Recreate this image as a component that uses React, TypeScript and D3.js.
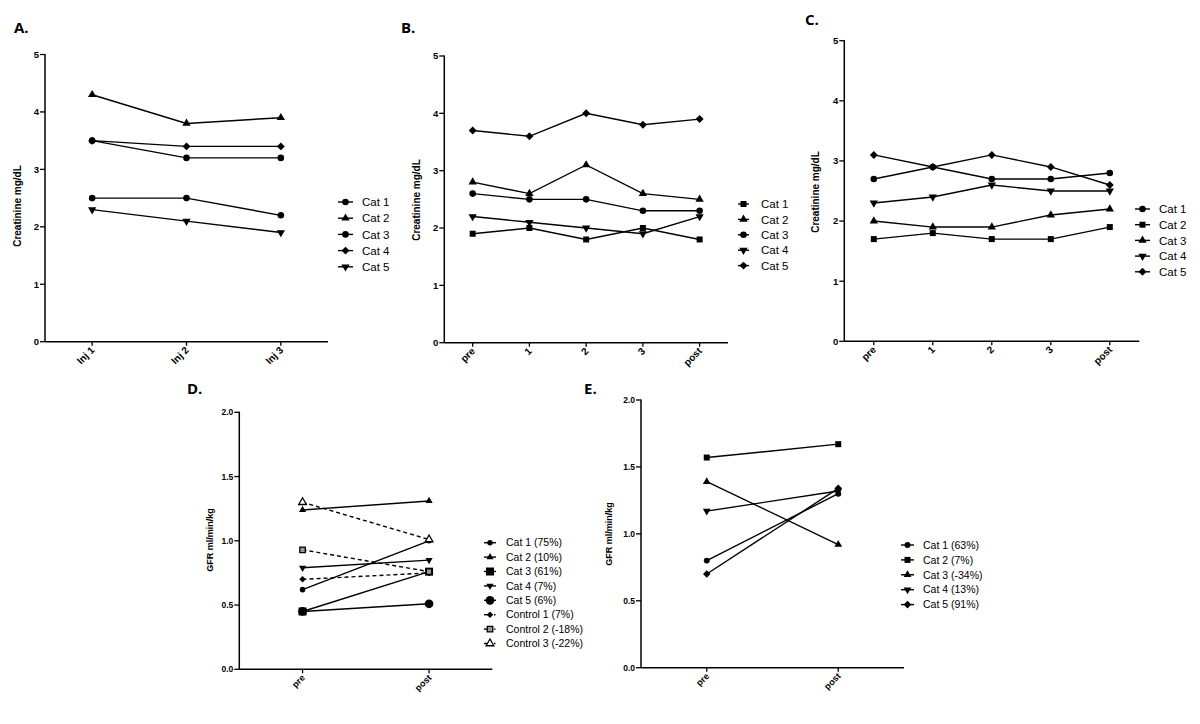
import React from 'react';
import * as d3 from 'd3';

// ---------- data ----------
const catsInj = ['Inj 1', 'Inj 2', 'Inj 3'];
const catsTime = ['pre', '1', '2', '3', 'post'];
const catsPrePost = ['pre', 'post'];

const creatTicks = [0, 1, 2, 3, 4, 5];
const gfrTicks = [0, 0.5, 1.0, 1.5, 2.0];

// Panel A
const aCat1 = [2.5, 2.5, 2.2];
const aCat2 = [4.3, 3.8, 3.9];
const aCat3 = [3.5, 3.2, 3.2];
const aCat4 = [3.5, 3.4, 3.4];
const aCat5 = [2.3, 2.1, 1.9];

// Panel B
const bCat1 = [1.9, 2.0, 1.8, 2.0, 1.8];
const bCat2 = [2.8, 2.6, 3.1, 2.6, 2.5];
const bCat3 = [2.6, 2.5, 2.5, 2.3, 2.3];
const bCat4 = [2.2, 2.1, 2.0, 1.9, 2.2];
const bCat5 = [3.7, 3.6, 4.0, 3.8, 3.9];

// Panel C
const cCat1 = [2.7, 2.9, 2.7, 2.7, 2.8];
const cCat2 = [1.7, 1.8, 1.7, 1.7, 1.9];
const cCat3 = [2.0, 1.9, 1.9, 2.1, 2.2];
const cCat4 = [2.3, 2.4, 2.6, 2.5, 2.5];
const cCat5 = [3.1, 2.9, 3.1, 2.9, 2.6];

// Panel D
const dNames = ['Cat 1 (75%)', 'Cat 2 (10%)', 'Cat 3 (61%)', 'Cat 4 (7%)', 'Cat 5 (6%)', 'Control 1 (7%)', 'Control 2 (-18%)', 'Control 3 (-22%)'];
const dCat1 = [0.62, 1.0];
const dCat2 = [1.24, 1.31];
const dCat3 = [0.45, 0.76];
const dCat4 = [0.79, 0.85];
const dCat5 = [0.45, 0.51];
const dCtl1 = [0.70, 0.75];
const dCtl2 = [0.93, 0.76];
const dCtl3 = [1.30, 1.01];

// Panel E
const eNames = ['Cat 1 (63%)', 'Cat 2 (7%)', 'Cat 3 (-34%)', 'Cat 4 (13%)', 'Cat 5 (91%)'];
const eCat1 = [0.80, 1.30];
const eCat2 = [1.57, 1.67];
const eCat3 = [1.39, 0.92];
const eCat4 = [1.17, 1.32];
const eCat5 = [0.70, 1.34];

// ---------- types ----------
type Shape = 'circle' | 'square' | 'tri' | 'itri' | 'diamond';
interface Series { name: string; values: number[]; shape: Shape; size?: number; dashed?: boolean; open?: boolean; }
interface PanelCfg {
  label: string; labelX: number; labelY: number;
  left: number; right: number; top: number; bottom: number;
  yMax: number; ticks: number[]; fmt: (v: number) => string;
  cats: string[]; series: Series[];
  yTitle: string; yTitleX: number; yTitleY: number; yTitleSize: number;
  legLine: [number, number]; legText: number; legY: number; legStep: number; legSize: number;
  tickSize: number; xTickSize: number;
}

const FONT = 'Liberation Sans, Arial, Helvetica, sans-serif';

function symbolPath(shape: Shape, size: number): string {
  const s = size;
  switch (shape) {
    case 'circle': return d3.symbol().type(d3.symbolCircle).size(s)()!;
    case 'square': return d3.symbol().type(d3.symbolSquare).size(s)()!;
    case 'tri': return d3.symbol().type(d3.symbolTriangle).size(s)()!;
    case 'itri': return d3.symbol().type(d3.symbolTriangle).size(s)()!;
    case 'diamond': return d3.symbol().type(d3.symbolSquare).size(s * 0.75)()!;
  }
}
function symbolRot(shape: Shape): number {
  if (shape === 'itri') return 180;
  if (shape === 'diamond') return 45;
  return 0;
}

function Marker({ x, y, s }: { x: number; y: number; s: Series }) {
  const size = s.size ?? 30;
  return (
    <path
      d={symbolPath(s.shape, size)}
      transform={`translate(${x},${y}) rotate(${symbolRot(s.shape)})`}
      fill={s.open ? (s.shape === 'square' ? '#999' : '#fff') : '#000'}
      stroke="#000"
      strokeWidth={s.open ? 1.3 : 0}
    />
  );
}

function Panel({ c }: { c: PanelCfg }) {
  const x = d3.scalePoint<string>().domain(c.cats).range([c.left, c.right]).padding(0.5);
  const y = d3.scaleLinear().domain([0, c.yMax]).range([c.bottom, c.top]);
  const line = d3.line<number>().x((_, i) => x(c.cats[i])!).y((v) => y(v));
  return (
    <g>
      <text x={c.labelX} y={c.labelY} fontFamily="Open Sans, sans-serif" fontWeight={700} fontSize={15}>{c.label}</text>
      {/* axes */}
      <line x1={c.left} x2={c.left} y1={c.top - 0.5} y2={c.bottom} stroke="#000" strokeWidth={1.5} />
      <line x1={c.left} x2={c.right} y1={c.bottom} y2={c.bottom} stroke="#000" strokeWidth={1.5} />
      {c.ticks.map((t) => (
        <g key={t}>
          <line x1={c.left - 5} x2={c.left} y1={y(t)} y2={y(t)} stroke="#000" strokeWidth={1.3} />
          <text x={c.left - 6} y={y(t) + c.tickSize * 0.36} textAnchor="end" fontFamily={FONT} fontWeight={700} fontSize={c.tickSize}>{c.fmt(t)}</text>
        </g>
      ))}
      {c.cats.map((k) => (
        <g key={k}>
          <line x1={x(k)!} x2={x(k)!} y1={c.bottom} y2={c.bottom + 4} stroke="#000" strokeWidth={1.3} />
          <text transform={`translate(${x(k)! + 3},${c.bottom + 9}) rotate(-45)`} textAnchor="end" fontFamily={FONT} fontWeight={700} fontSize={c.xTickSize}>{k}</text>
        </g>
      ))}
      <text transform={`translate(${c.yTitleX},${c.yTitleY}) rotate(-90)`} textAnchor="middle" dominantBaseline="middle" fontFamily={FONT} fontWeight={700} fontSize={c.yTitleSize}>{c.yTitle}</text>
      {/* series lines */}
      {c.series.map((s) => (
        <path key={'l' + s.name} d={line(s.values)!} fill="none" stroke="#000" strokeWidth={1.4} strokeDasharray={s.dashed ? '4,3' : undefined} />
      ))}
      {c.series.map((s) => (
        <g key={'m' + s.name}>
          {s.values.map((v, i) => <Marker key={i} x={x(c.cats[i])!} y={y(v)} s={s} />)}
        </g>
      ))}
      {/* legend */}
      {c.series.map((s, i) => {
        const ly = c.legY + i * c.legStep;
        const mx = (c.legLine[0] + c.legLine[1]) / 2;
        return (
          <g key={'g' + s.name}>
            {s.dashed ? (
              <>
                <line x1={c.legLine[0]} x2={mx} y1={ly} y2={ly} stroke="#000" strokeWidth={1.4} />
                <line x1={mx + 4} x2={c.legLine[1] + 1} y1={ly} y2={ly} stroke="#000" strokeWidth={1.4} strokeDasharray="1.5,2" />
              </>
            ) : (
              <line x1={c.legLine[0]} x2={c.legLine[1]} y1={ly} y2={ly} stroke="#000" strokeWidth={1.4} />
            )}
            <Marker x={mx} y={ly} s={s} />
            <text x={c.legText} y={ly + c.legSize * 0.36} fontFamily={FONT} fontSize={c.legSize}>{s.name}</text>
          </g>
        );
      })}
    </g>
  );
}

const fmtInt = (v: number) => d3.format('d')(v);
const fmt1 = (v: number) => d3.format('.1f')(v);

const panels: PanelCfg[] = [
  {
    label: 'A.', labelX: 14, labelY: 33,
    left: 45, right: 328, top: 54.5, bottom: 341.7,
    yMax: 5, ticks: creatTicks, fmt: fmtInt, cats: catsInj,
    series: [
      { name: 'Cat 1', values: aCat1, shape: 'circle', size: 34 },
      { name: 'Cat 2', values: aCat2, shape: 'tri', size: 30 },
      { name: 'Cat 3', values: aCat3, shape: 'circle', size: 34 },
      { name: 'Cat 4', values: aCat4, shape: 'diamond', size: 42 },
      { name: 'Cat 5', values: aCat5, shape: 'itri', size: 30 },
    ],
    yTitle: 'Creatinine mg/dL', yTitleX: 18, yTitleY: 206, yTitleSize: 10,
    legLine: [338, 353], legText: 362, legY: 202, legStep: 16.2, legSize: 11.5, tickSize: 9.5, xTickSize: 10,
  },
  {
    label: 'B.', labelX: 401, labelY: 33,
    left: 444.3, right: 728, top: 56, bottom: 342.7,
    yMax: 5, ticks: creatTicks, fmt: fmtInt, cats: catsTime,
    series: [
      { name: 'Cat 1', values: bCat1, shape: 'square', size: 36 },
      { name: 'Cat 2', values: bCat2, shape: 'tri', size: 30 },
      { name: 'Cat 3', values: bCat3, shape: 'circle', size: 34 },
      { name: 'Cat 4', values: bCat4, shape: 'itri', size: 30 },
      { name: 'Cat 5', values: bCat5, shape: 'diamond', size: 42 },
    ],
    yTitle: 'Creatinine mg/dL', yTitleX: 417, yTitleY: 200, yTitleSize: 10,
    legLine: [738, 749], legText: 761, legY: 204, legStep: 15.4, legSize: 11.5, tickSize: 9.5, xTickSize: 10,
  },
  {
    label: 'C.', labelX: 805, labelY: 25,
    left: 844.3, right: 1139.3, top: 40.7, bottom: 341.3,
    yMax: 5, ticks: creatTicks, fmt: fmtInt, cats: catsTime,
    series: [
      { name: 'Cat 1', values: cCat1, shape: 'circle', size: 34 },
      { name: 'Cat 2', values: cCat2, shape: 'square', size: 36 },
      { name: 'Cat 3', values: cCat3, shape: 'tri', size: 30 },
      { name: 'Cat 4', values: cCat4, shape: 'itri', size: 30 },
      { name: 'Cat 5', values: cCat5, shape: 'diamond', size: 42 },
    ],
    yTitle: 'Creatinine mg/dL', yTitleX: 816, yTitleY: 192, yTitleSize: 10,
    legLine: [1135, 1150], legText: 1159, legY: 209, legStep: 15.7, legSize: 11.5, tickSize: 9.5, xTickSize: 10,
  },
  {
    label: 'D.', labelX: 187, labelY: 394,
    left: 239.3, right: 492.3, top: 412.3, bottom: 669.3,
    yMax: 2, ticks: gfrTicks, fmt: fmt1, cats: catsPrePost,
    series: [
      { name: dNames[0], values: dCat1, shape: 'circle', size: 24 },
      { name: dNames[1], values: dCat2, shape: 'tri', size: 22 },
      { name: dNames[2], values: dCat3, shape: 'square', size: 64 },
      { name: dNames[3], values: dCat4, shape: 'itri', size: 22 },
      { name: dNames[4], values: dCat5, shape: 'circle', size: 60 },
      { name: dNames[5], values: dCtl1, shape: 'diamond', size: 28, dashed: true },
      { name: dNames[6], values: dCtl2, shape: 'square', size: 30, dashed: true, open: true },
      { name: dNames[7], values: dCtl3, shape: 'tri', size: 26, dashed: true, open: true },
    ],
    yTitle: 'GFR ml/min/kg', yTitleX: 211, yTitleY: 540, yTitleSize: 9,
    legLine: [484, 496], legText: 506, legY: 542.7, legStep: 14.4, legSize: 10.5, tickSize: 8.5, xTickSize: 9,
  },
  {
    label: 'E.', labelX: 584, labelY: 394,
    left: 641, right: 904, top: 400, bottom: 667.7,
    yMax: 2, ticks: gfrTicks, fmt: fmt1, cats: catsPrePost,
    series: [
      { name: eNames[0], values: eCat1, shape: 'circle', size: 28 },
      { name: eNames[1], values: eCat2, shape: 'square', size: 36 },
      { name: eNames[2], values: eCat3, shape: 'tri', size: 26 },
      { name: eNames[3], values: eCat4, shape: 'itri', size: 26 },
      { name: eNames[4], values: eCat5, shape: 'diamond', size: 38 },
    ],
    yTitle: 'GFR ml/min/kg', yTitleX: 610, yTitleY: 534, yTitleSize: 9,
    legLine: [901, 914], legText: 923, legY: 545, legStep: 14.9, legSize: 10.5, tickSize: 8.5, xTickSize: 9,
  },
];

export default function App() {
  return (
    <svg width={1200} height={724} style={{ position: 'absolute', left: 0, top: 0, background: '#fff' }}>
      <rect width={1200} height={724} fill="#fff" />
      {panels.map((p) => <Panel key={p.label} c={p} />)}
    </svg>
  );
}
